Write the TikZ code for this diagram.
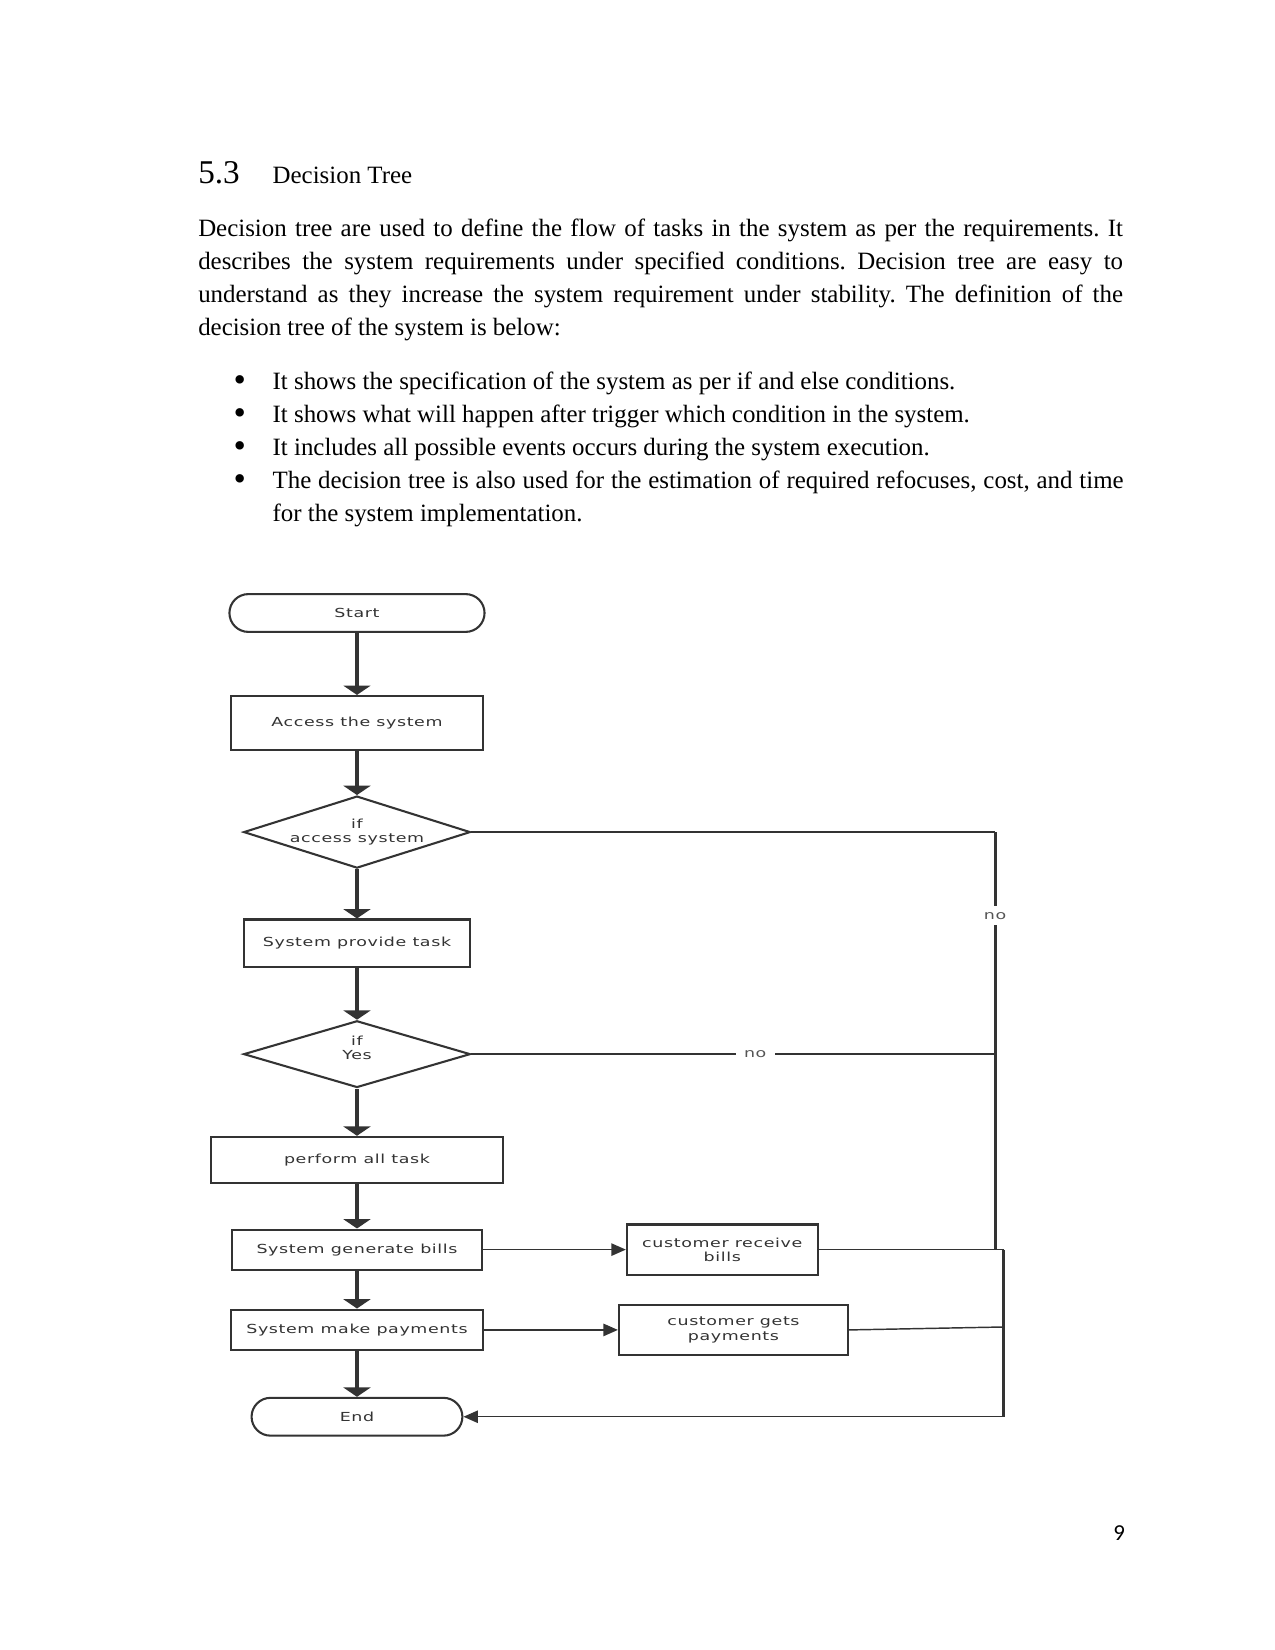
\documentclass[tikz,border=0pt]{standalone}
\usepackage{fontspec}
\setmainfont{Liberation Serif}
\newfontfamily\flowfont[FakeStretch=1.4,LetterSpace=5]{DejaVu Sans}
\newfontfamily\pagefont{Carlito}
\usetikzlibrary{positioning,arrows.meta,shapes.geometric,calc}
\definecolor{ink}{HTML}{333333}
\definecolor{flowtext}{HTML}{333333}
\definecolor{muted}{HTML}{555555}
\frenchspacing

\begin{document}
\begin{tikzpicture}[
  >={Triangle[length=7pt,width=6pt]},
  body/.style={font=\fontsize{12}{15.85}\selectfont,inner sep=0pt},
  flow/.style={draw=ink,line width=1pt,font=\flowfont\fontsize{6}{7}\selectfont,
               text=flowtext,align=center,inner sep=0pt},
  box/.style={flow,rectangle},
  term/.style={flow,rectangle,rounded corners=3.2mm},
  ask/.style={flow,diamond,aspect=3},
  spine/.style={draw=ink,line width=1.9pt,-{Triangle[length=4.5pt,width=13pt]}},
  link/.style={draw=ink,line width=0.7pt},
  rail/.style={draw=ink,line width=1.4pt},
  nolbl/.style={font=\flowfont\fontsize{6}{7}\selectfont,text=muted,fill=white,inner xsep=4pt,inner ysep=3pt},
]
\fill[white] (0,0) rectangle (21.59,-27.94);
\useasboundingbox (0,0) rectangle (21.59,-27.94);

%================================================================== TEXT ===
\node[anchor=base west,font=\fontsize{16}{19}\selectfont,inner sep=0pt] (secnum) at (3.35,-3.10) {5.3};
\node[anchor=base west,body] (sectitle) at (4.61,-3.10) {Decision Tree};

\node[anchor=base west,body,text width=15.66cm,align=justify] (intro) at (3.35,-4.01)
  {Decision tree are used to define the flow of tasks in the system as per the requirements. It\linebreak
   describes the system requirements under specified conditions. Decision tree are easy to\linebreak
   understand as they increase the system requirement under stability. The definition of the\linebreak
   decision tree of the system is below:};

\foreach \k in {0,...,3}
  \node[anchor=base,font=\fontsize{17}{17}\selectfont,inner sep=0pt] (dot\k) at (4.06,{-6.63-0.559*\k}) {\textbullet};
\node[anchor=base west,body,text width=14.41cm,align=justify] (items) at (4.61,-6.60)
  {It shows the specification of the system as per if and else conditions.\par
   It shows what will happen after trigger which condition in the system.\par
   It includes all possible events occurs during the system execution.\par
   The decision tree is also used for the estimation of required refocuses, cost, and time\linebreak
   for the system implementation.};

%============================================================= FLOWCHART ===
\node[term,minimum width=4.32cm,minimum height=0.64cm] (start)     at (6.045,-10.38) {Start};
\node[box, minimum width=4.27cm,minimum height=0.91cm] (access)    at (6.045,-12.24) {Access the system};
\node[ask, minimum width=3.84cm,minimum height=1.22cm] (askaccess) at (6.045,-14.09) {if\\access system};
\node[box, minimum width=3.84cm,minimum height=0.80cm] (provide)   at (6.045,-15.97) {System provide task};
\node[ask, minimum width=3.84cm,minimum height=1.13cm,text depth=6pt] (askyes) at (6.045,-17.85) {if\\Yes};
\node[box, minimum width=4.93cm,minimum height=0.78cm] (perform)   at (6.045,-19.64) {perform all task};
\node[box, minimum width=4.22cm,minimum height=0.68cm] (genbills)  at (6.045,-21.16) {System generate bills};
\node[box, minimum width=4.27cm,minimum height=0.69cm] (makepay)   at (6.045,-22.52) {System make payments};
\node[term,minimum width=3.57cm,minimum height=0.64cm] (finish)    at (6.045,-23.99) {End};
\node[box, minimum width=3.23cm,minimum height=0.85cm] (getbills)  at (12.23,-21.16) {customer receive\\bills};
\node[box, minimum width=3.88cm,minimum height=0.85cm] (getpay)    at (12.42,-22.52) {customer gets\\payments};

% main flow
\draw[spine] (start) -- (access);
\draw[spine] (access) -- (askaccess);
\draw[spine] (askaccess) -- (provide);
\draw[spine] (provide) -- (askyes);
\draw[spine] (askyes) -- (perform);
\draw[spine] (perform) -- (genbills);
\draw[spine] (genbills) -- (makepay);
\draw[spine] (makepay) -- (finish);

\draw[link,->] (genbills) -- (getbills);
\draw[link,->] (makepay) -- (getpay);

% the "no" branches and the return to End
\coordinate (railtop)  at (16.85,-14.09);
\coordinate (railmid)  at (16.85,-17.85);
\coordinate (railfoot) at (16.85,-21.16);
\coordinate (billsend) at (17.00,-21.16);
\coordinate (payend)   at (17.00,-22.47);
\coordinate (railend)  at (17.00,-23.99);

\draw[link] (askaccess.east) -- (railtop);
\draw[rail] (railtop) -- node[nolbl,pos=0.2] {no} (railfoot);
\draw[link] (askyes.east) -- node[nolbl,pos=0.542] {no} (railmid);
\draw[link] (getbills.east) -- (billsend);
\draw[link] (getpay.east) -- (payend);
\draw[rail] (billsend) -- (railend);
\draw[link,->] (railend) -- (finish.east);

\node[anchor=base,font=\pagefont\fontsize{11}{13}\selectfont,inner sep=0pt] (pagenum) at (18.95,-26.09) {9};
\end{tikzpicture}
\end{document}
